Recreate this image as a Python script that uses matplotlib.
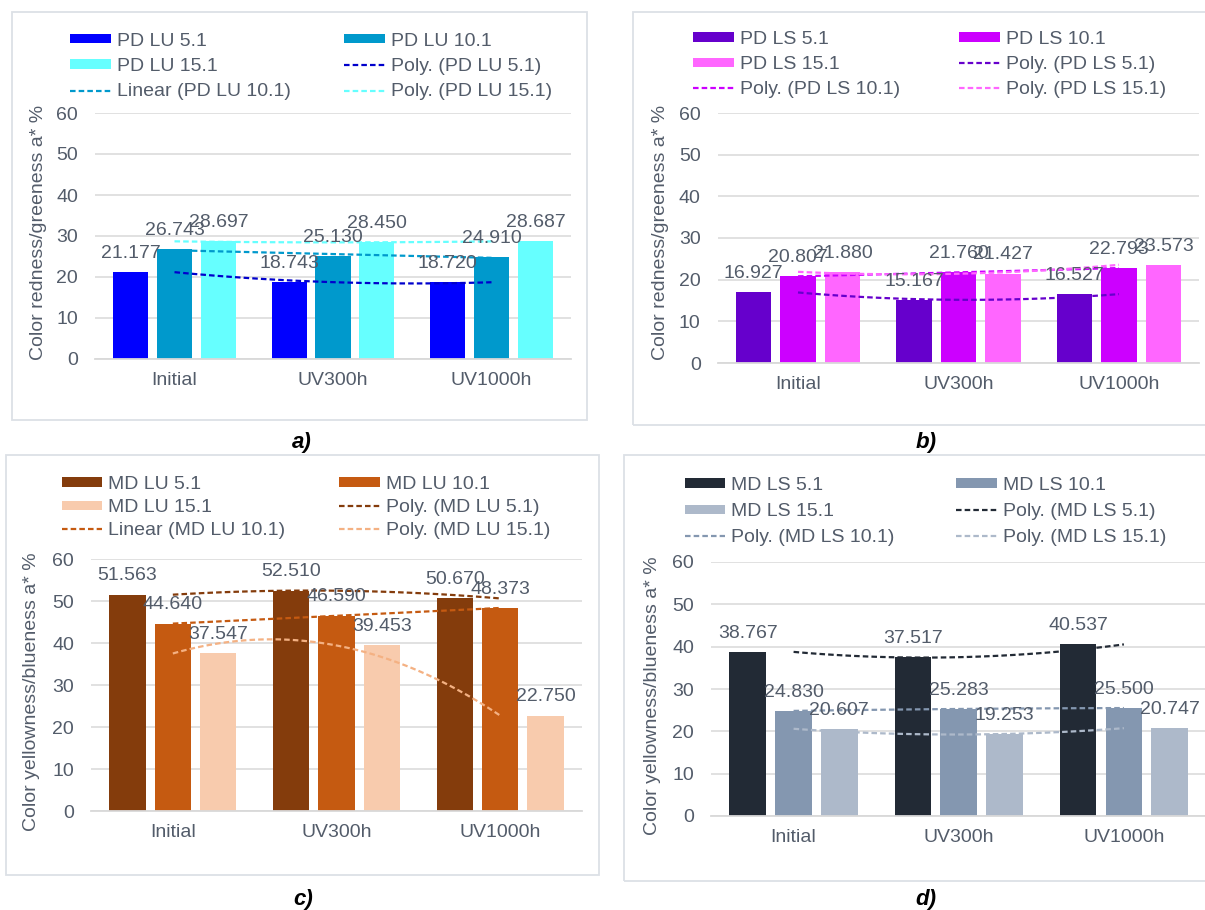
import matplotlib
matplotlib.use("Agg")
import matplotlib.pyplot as plt
import numpy as np
from matplotlib.patches import Rectangle, Patch
from matplotlib.lines import Line2D

plt.rcParams['font.family'] = ['Liberation Sans', 'DejaVu Sans']

# ---------------- data ----------------
categories = ["Initial", "UV300h", "UV1000h"]

a_names = ["PD LU 5.1", "PD LU 10.1", "PD LU 15.1"]
a_lu5 = [21.177, 18.743, 18.720]
a_lu10 = [26.743, 25.130, 24.910]
a_lu15 = [28.697, 28.450, 28.687]
a_trend = ["Poly.", "Linear", "Poly."]

b_names = ["PD LS 5.1", "PD LS 10.1", "PD LS 15.1"]
b_ls5 = [16.927, 15.167, 16.527]
b_ls10 = [20.807, 21.760, 22.793]
b_ls15 = [21.880, 21.427, 23.573]
b_trend = ["Poly.", "Poly.", "Poly."]

c_names = ["MD LU 5.1", "MD LU 10.1", "MD LU 15.1"]
c_lu5 = [51.563, 52.510, 50.670]
c_lu10 = [44.640, 46.590, 48.373]
c_lu15 = [37.547, 39.453, 22.750]
c_trend = ["Poly.", "Linear", "Poly."]

d_names = ["MD LS 5.1", "MD LS 10.1", "MD LS 15.1"]
d_ls5 = [38.767, 37.517, 40.537]
d_ls10 = [24.830, 25.283, 25.500]
d_ls15 = [20.607, 19.253, 20.747]
d_trend = ["Poly.", "Poly.", "Poly."]

ylabel_ab = "Color redness/greeness a* %"
ylabel_cd = "Color yellowness/blueness a* %"
yticks = [0, 10, 20, 30, 40, 50, 60]

# ---------------- styling ----------------
W, H = 1205, 910
TEXT = '#535C6A'
GRID = '#D9D9D9'
FS = 14
FSPX = FS * 100 / 72
DASH = (0, (2.5, 1.4))
TXT_H = 16.9  # approx legend text row height in px

fig = plt.figure(figsize=(W / 100, H / 100), dpi=100)


def fx(x):
    return x / W


def fy(y):
    return 1 - y / H


def panel(box, axpx, names, series, colors, tcolors, trends, ylabel, ylab_xy,
          leg_x, leg_row1, leg_pitch, plabel, plab_xy):
    # chart-area frame
    bl, bt, br, bb = box
    fig.patches.append(Rectangle((fx(bl), fy(bb)), (br - bl) / W, (bb - bt) / H,
                                 transform=fig.transFigure, fill=False,
                                 edgecolor='#DCE0E6', lw=1.3, zorder=0))
    l, t, r, b = axpx
    ax = fig.add_axes([fx(l), fy(b), (r - l) / W, (b - t) / H])
    ax.patch.set_visible(False)
    x = np.arange(len(categories))
    width = 0.222
    offs = [-0.277, 0.0, 0.277]
    for i, vals in enumerate(series):
        ax.bar(x + offs[i], vals, width, color=colors[i], zorder=2)
        for xi, v in zip(x + offs[i], vals):
            ax.annotate(f"{v:.3f}", (xi, v), xytext=(0, 13.5),
                        textcoords='offset points', ha='center', va='center',
                        color=TEXT, fontsize=FS, zorder=5)
    for i, vals in enumerate(series):
        deg = 2 if trends[i].startswith("Poly") else 1
        coef = np.polyfit(x, vals, deg)
        xs = np.linspace(x[0], x[-1], 120)
        ax.plot(xs, np.polyval(coef, xs), color=tcolors[i], lw=1.6, ls=DASH,
                zorder=4)
    ax.set_xlim(-0.5, len(categories) - 0.5)
    ax.set_ylim(0, 60)
    ax.set_yticks(yticks)
    ax.set_xticks(x)
    ax.set_xticklabels(categories)
    ax.grid(axis='y', color=GRID, lw=1.1, zorder=0)
    ax.set_axisbelow(True)
    for s in ['left', 'right', 'top']:
        ax.spines[s].set_visible(False)
    ax.spines['bottom'].set_color(GRID)
    ax.spines['bottom'].set_linewidth(1.3)
    ax.tick_params(axis='y', length=0, labelsize=FS, labelcolor=TEXT, pad=12.3)
    ax.tick_params(axis='x', length=0, labelsize=FS, labelcolor=TEXT, pad=9.5)

    fig.text(fx(ylab_xy[0]), fy(ylab_xy[1]), ylabel, rotation=90, ha='center',
             va='center', fontsize=FS, color=TEXT)

    bar_h = [Patch(facecolor=c, edgecolor='none') for c in colors]
    tr_h = [Line2D([], [], color=c, lw=1.6, ls=DASH) for c in tcolors]
    tr_l = [f"{trends[i]} ({names[i]})" for i in range(3)]
    ls = (leg_pitch - TXT_H) / FSPX
    col1 = ([bar_h[0], bar_h[2], tr_h[1]], [names[0], names[2], tr_l[1]])
    col2 = ([bar_h[1], tr_h[0], tr_h[2]], [names[1], tr_l[0], tr_l[2]])
    for (hh, ll), lx in zip([col1, col2], leg_x):
        fig.legend(hh, ll, loc='upper left',
                   bbox_to_anchor=(fx(lx), fy(leg_row1 + 2.5 - TXT_H / 2)),
                   bbox_transform=fig.transFigure, frameon=False, borderpad=0,
                   borderaxespad=0, handlelength=2.1, handleheight=0.36,
                   handletextpad=0.31, labelspacing=ls, fontsize=FS,
                   labelcolor=TEXT)
    fig.text(fx(plab_xy[0]), fy(plab_xy[1]), plabel, ha='center', va='center',
             fontsize=16, fontweight='bold', fontstyle='italic', color='black')


panel((12, 12, 587, 420), (95.25, 113, 570.75, 359), a_names,
      [a_lu5, a_lu10, a_lu15], ['#0000FF', '#0099CC', '#66FFFF'],
      ['#0000CC', '#0099CC', '#66FFFF'], a_trend, ylabel_ab, (38.5, 232),
      (70, 344), 38.5, 25.3, 'a)', (302, 442))

panel((633, 12, 1215, 425), (717.75, 113, 1199.25, 363), b_names,
      [b_ls5, b_ls10, b_ls15], ['#6600CC', '#CC00FF', '#FF66FF'],
      ['#6600CC', '#CC00FF', '#FF66FF'], b_trend, ylabel_ab, (660, 232.5),
      (693, 959), 37, 25, 'b)', (926, 442))

panel((6, 455, 599, 875), (91, 559.3, 582, 811), c_names,
      [c_lu5, c_lu10, c_lu15], ['#843C0C', '#C55A11', '#F8CBAD'],
      ['#843C0C', '#C55A11', '#F4B183'], c_trend, ylabel_cd, (32, 692),
      (61.5, 339), 482, 23, 'c)', (303, 899))

panel((624, 455, 1215, 881), (711, 562, 1206.5, 816), d_names,
      [d_ls5, d_ls10, d_ls15], ['#222A35', '#8497B0', '#ADB9CA'],
      ['#222A35', '#8497B0', '#ADB9CA'], d_trend, ylabel_cd, (652.5, 696),
      (684.6, 956), 483, 26, 'd)', (926, 900))

fig.savefig("out.png", dpi=100, facecolor='white')
